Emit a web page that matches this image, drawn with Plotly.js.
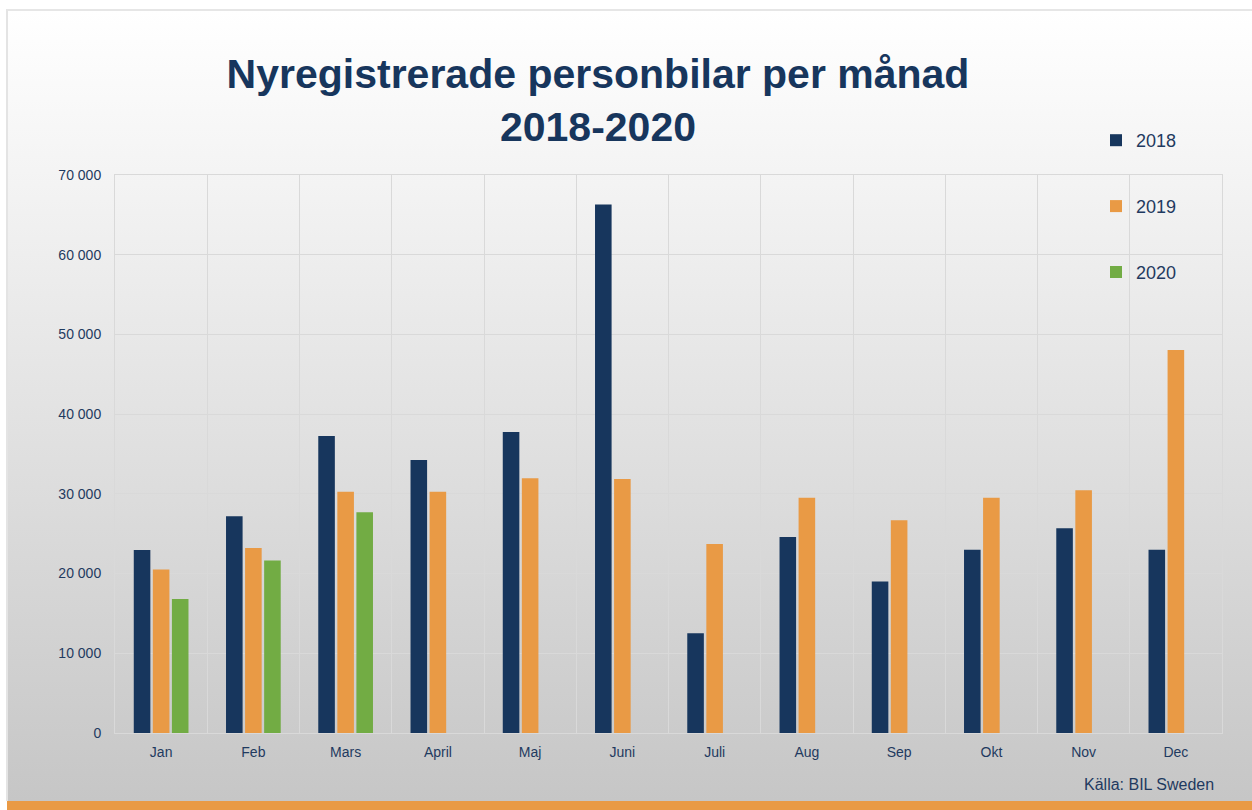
<!DOCTYPE html>
<html>
<head>
<meta charset="utf-8">
<script src="https://cdn.plot.ly/plotly-3.0.1.min.js"></script>
<style>
  html, body { margin: 0; padding: 0; background: #ffffff; }
  #wrap { position: relative; width: 1252px; height: 810px; overflow: hidden; }
  #bg { position: absolute; left: 6px; top: 9px; right: 0; bottom: 9px;
        border-left: 2px solid #e4e4e4; border-top: 2px solid #e6e6e6;
        background: linear-gradient(to bottom, #ffffff 0%, #f3f3f3 22%, #c6c6c6 100%); }
  #band { position: absolute; left: 7px; right: 0; bottom: 0; height: 9px; background: #E99A45; }
  #chart { position: absolute; left: 0; top: 0; width: 1252px; height: 810px; }
</style>
</head>
<body>
<div id="wrap">
  <div id="bg"></div>
  <div id="band"></div>
  <div id="chart"></div>
</div>
<script>
const months = ["Jan", "Feb", "Mars", "April", "Maj", "Juni", "Juli", "Aug", "Sep", "Okt", "Nov", "Dec"];
const y2018 = [22950, 27200, 37250, 34250, 37750, 66300, 12500, 24600, 19000, 23000, 25700, 23000];
const y2019 = [20500, 23200, 30250, 30250, 31950, 31850, 23700, 29500, 26700, 29500, 30450, 48050];
const y2020 = [16800, 21650, 27700, null, null, null, null, null, null, null, null, null];
const seriesNames = ["2018", "2019", "2020"];
const seriesColors = ["#17365D", "#E99A45", "#72AC44"];
const titleText = "Nyregistrerade personbilar per månad<br>2018-2020";
const sourceText = "Källa: BIL Sweden";

const textColor = "#1F3A60";
const gridColor = "#d9d9d9";

const allSeries = [y2018, y2019, y2020];
const traces = allSeries.map((vals, i) => ({
  type: "bar",
  name: seriesNames[i],
  x: months,
  y: vals,
  legendgroup: "g" + i,
  marker: { color: seriesColors[i], line: { width: 0 } },
  hoverinfo: "x+y+name"
}));

const layout = {
  width: 1252,
  height: 810,
  paper_bgcolor: "rgba(0,0,0,0)",
  plot_bgcolor: "rgba(0,0,0,0)",
  separators: ", ",
  margin: { l: 115, r: 30, t: 175, b: 77, pad: 0 },
  barmode: "group",
  bargap: 0.38,
  bargroupgap: 0.13,
  font: { family: "Liberation Sans, Arial, sans-serif", color: textColor },
  title: {
    text: titleText,
    font: { family: "Liberation Sans, Arial, sans-serif", size: 41, color: "#17365D", weight: "bold" },
    x: 598 / 1252,
    xanchor: "center",
    y: 1 - 88 / 810,
    yanchor: "middle"
  },
  xaxis: {
    type: "category",
    tickson: "boundaries",
    ticks: "",
    showgrid: true,
    gridcolor: gridColor,
    gridwidth: 1,
    showline: true,
    linecolor: gridColor,
    mirror: true,
    tickfont: { size: 14, color: textColor },
    ticklabelstandoff: 6,
    fixedrange: true
  },
  yaxis: {
    range: [0, 70000],
    tickvals: [0, 10000, 20000, 30000, 40000, 50000, 60000, 70000],
    tickformat: ",d",
    showgrid: true,
    gridcolor: gridColor,
    gridwidth: 1,
    zeroline: false,
    showline: true,
    linecolor: gridColor,
    mirror: true,
    ticks: "",
    tickfont: { size: 14, color: textColor },
    ticklabelstandoff: 10,
    fixedrange: true
  },
  showlegend: true,
  legend: {
    x: (1096 - 115) / 1107,
    xanchor: "left",
    y: (733 - 122) / 558,
    yanchor: "top",
    traceorder: "grouped",
    tracegroupgap: 39.5,
    bgcolor: "rgba(0,0,0,0)",
    font: { size: 18, color: textColor }
  },
  annotations: [{
    text: sourceText,
    xref: "paper", yref: "paper",
    x: (1216 - 115) / 1107, xanchor: "right",
    y: (733 - 784) / 558, yanchor: "middle",
    showarrow: false,
    font: { size: 16, color: textColor, family: "Liberation Sans, Arial, sans-serif" }
  }]
};

Plotly.newPlot("chart", traces, layout, { displayModeBar: false, staticPlot: false });
</script>
</body>
</html>
